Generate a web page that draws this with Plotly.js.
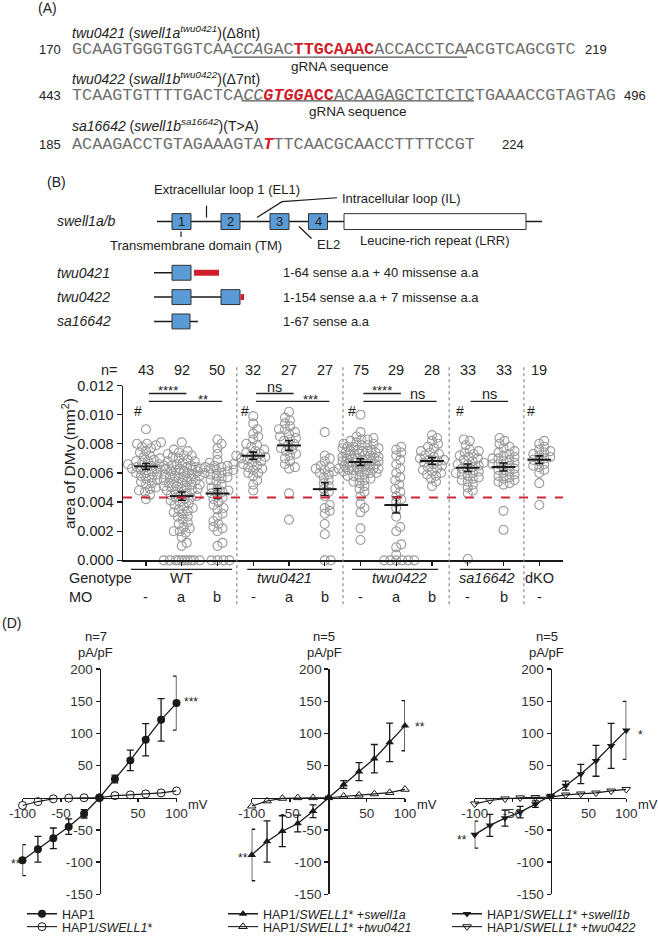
<!DOCTYPE html>
<html><head><meta charset="utf-8">
<script src="https://cdn.plot.ly/plotly-3.0.1.min.js"></script>
<style>html,body{margin:0;padding:0;background:#fff;}#chart{width:658px;height:942px;}</style>
</head><body><div id="chart"></div>
<script>
// ================= DATA =================
// Panel A: sequences
const seqStart = [170, 443, 185];
const seqEnd = [219, 496, 224];
const seqTitles = [
  '<i>twu0421</i> (<i>swell1a</i><sup><i>twu0421</i></sup>)(Δ8nt)',
  '<i>twu0422</i> (<i>swall1b</i><sup><i>twu0422</i></sup>)(Δ7nt)',
  '<i>sa16642</i> (<i>swell1b</i><sup><i>sa16642</i></sup>)(T>A)'
];
const RED = '#d01f2c';
const seqTexts = [
  'GCAAGTGGGTGGTCAA<i>CCA</i>GAC<b><span style="color:' + RED + '">TTGCAAAC</span></b>ACCACCTCAACGTCAGCGTC',
  'TCAAGTGTTTTGACTCA<i>CC</i><b><i><span style="color:' + RED + '">GTGG</span></i><span style="color:' + RED + '">ACC</span></b>ACAAGAGCTCTCTCTGAAACCGTAGTAG',
  'ACAAGACCTGTAGAAAGTA<b><i><span style="color:' + RED + '">T</span></i></b>TTCAACGCAACCTTTTCCGT'
];
// Panel B: mutants
const mutants = ['twu0421', 'twu0422', 'sa16642'];
const mutantDesc = ['1-64 sense a.a + 40 missense a.a', '1-154 sense a.a + 7 missense a.a', '1-67 sense a.a'];

// Panel C: area of DMv (values in 10^-3 mm^2)
const genotypes = ['WT', 'twu0421', 'twu0422', 'sa16642', 'dKO'];
const moLabels = ['-', 'a', 'b', '-', 'a', 'b', '-', 'a', 'b', '-', 'b', '-'];
const nCounts = [43, 92, 50, 32, 27, 27, 75, 29, 28, 33, 33, 19];
const wtCtrl = [9.0, 8.1, 8.0, 8.0, 7.9, 7.8, 7.7, 7.5, 7.4, 7.2, 7.1, 7.0, 6.9, 6.8, 6.8, 6.7, 6.6, 6.6, 6.5, 6.5, 6.4, 6.4, 6.3, 6.2, 6.2, 6.1, 6.0, 6.0, 5.9, 5.8, 5.7, 5.6, 5.5, 5.4, 5.3, 5.2, 5.0, 4.9, 4.8, 4.7, 4.5, 4.2, 6.3];
const wtMoA = [0, 0, 0, 0, 0, 0, 0, 0, 0, 0, 1.0, 1.2, 1.6, 1.9, 2.0, 2.0, 2.2, 2.3, 2.5, 2.6, 2.8, 3.0, 3.0, 3.2, 3.3, 3.4, 3.5, 3.6, 3.7, 3.8, 3.9, 4.0, 4.1, 4.2, 4.3, 4.3, 4.4, 4.5, 4.5, 4.6, 4.7, 4.8, 4.8, 4.9, 4.9, 5.0, 5.0, 5.1, 5.1, 5.2, 5.2, 5.3, 5.3, 5.4, 5.4, 5.5, 5.5, 5.6, 5.6, 5.7, 5.7, 5.8, 5.8, 5.9, 5.9, 6.0, 6.0, 6.1, 6.1, 6.1, 6.2, 6.2, 6.3, 6.3, 6.4, 6.4, 6.5, 6.5, 6.6, 6.7, 6.8, 6.8, 6.9, 7.0, 7.1, 7.2, 7.2, 7.3, 7.4, 7.5, 7.6, 8.1];
const wtMoB = [8.3, 8.0, 7.7, 7.3, 6.9, 6.7, 6.6, 6.5, 6.5, 6.4, 6.3, 6.3, 6.2, 6.2, 6.1, 6.0, 6.0, 5.9, 5.8, 5.6, 5.5, 5.4, 5.2, 5.0, 4.9, 4.8, 4.6, 4.5, 4.3, 4.2, 4.0, 3.8, 3.6, 3.5, 3.2, 3.0, 2.7, 2.5, 2.3, 2.2, 2.0, 1.2, 1.0, 0, 0, 0, 0, 5.7, 6.4, 4.7];
const t421Ctrl = [9.9, 9.4, 9.0, 8.7, 8.5, 8.3, 8.0, 7.9, 7.8, 7.6, 7.5, 7.4, 7.3, 7.2, 7.2, 7.1, 7.0, 6.9, 6.8, 6.7, 6.6, 6.5, 6.4, 6.3, 6.2, 6.0, 6.0, 5.8, 5.5, 5.2, 4.8, 7.0];
const t421MoA = [10.2, 9.8, 9.6, 9.4, 9.2, 9.0, 9.0, 8.8, 8.7, 8.5, 8.4, 8.3, 8.2, 8.0, 7.9, 7.7, 7.5, 7.3, 7.2, 7.0, 6.8, 6.6, 6.4, 6.3, 7.6, 4.6, 2.8];
const t421MoB = [8.8, 7.2, 7.0, 6.8, 6.5, 6.4, 6.3, 6.2, 6.1, 6.0, 5.9, 5.7, 5.5, 5.3, 5.1, 4.9, 4.7, 4.4, 3.8, 3.6, 3.4, 3.2, 2.5, 1.8, 0, 0, 6.3];
const t422Ctrl = [10.0, 8.8, 8.5, 8.4, 8.3, 8.2, 8.1, 8.0, 8.0, 7.9, 7.8, 7.8, 7.7, 7.7, 7.6, 7.6, 7.5, 7.5, 7.4, 7.4, 7.3, 7.3, 7.2, 7.2, 7.1, 7.1, 7.0, 7.0, 7.0, 6.9, 6.9, 6.8, 6.8, 6.8, 6.7, 6.7, 6.6, 6.6, 6.5, 6.5, 6.4, 6.4, 6.3, 6.3, 6.2, 6.2, 6.1, 6.1, 6.0, 6.0, 5.9, 5.8, 5.7, 5.6, 5.5, 5.4, 5.3, 5.1, 4.9, 4.7, 4.4, 3.9, 3.6, 3.3, 2.2, 1.4, 7.5, 7.0, 6.6, 6.2, 8.3, 7.9, 5.8, 6.5, 7.2];
const t422MoA = [7.8, 7.6, 7.4, 7.2, 6.9, 6.6, 6.3, 6.0, 5.7, 5.5, 5.2, 4.9, 4.7, 4.4, 4.2, 4.0, 3.6, 3.0, 2.3, 2.0, 1.1, 0.4, 0.9, 0, 0, 0, 0, 0, 0];
const t422MoB = [8.6, 8.4, 8.2, 8.0, 7.8, 7.7, 7.5, 7.4, 7.3, 7.2, 7.1, 7.0, 6.9, 6.8, 6.7, 6.6, 6.5, 6.4, 6.3, 6.2, 6.1, 6.0, 5.9, 5.8, 5.6, 5.4, 5.1, 6.9];
const saCtrl = [8.3, 8.2, 7.9, 7.6, 7.5, 7.4, 7.2, 7.1, 7.0, 6.9, 6.8, 6.7, 6.6, 6.5, 6.4, 6.3, 6.2, 6.1, 6.0, 6.0, 5.9, 5.8, 5.7, 5.6, 5.5, 5.4, 5.2, 5.0, 4.8, 4.6, 0.1, 6.6, 7.3];
const saMoB = [8.4, 8.2, 8.0, 7.8, 7.7, 7.5, 7.4, 7.3, 7.2, 7.1, 7.0, 6.9, 6.8, 6.7, 6.6, 6.5, 6.4, 6.3, 6.2, 6.1, 6.0, 5.9, 5.8, 5.7, 5.6, 5.5, 5.4, 5.3, 5.2, 3.4, 2.1, 6.6, 7.0];
const dko = [8.2, 8.0, 7.8, 7.6, 7.5, 7.4, 7.3, 7.2, 7.1, 7.0, 6.9, 6.8, 6.6, 6.5, 6.4, 6.2, 6.0, 5.3, 3.8];
const groupMeans = [6.45, 4.41, 4.59, 7.18, 7.89, 4.89, 6.75, 3.80, 6.82, 6.36, 6.41, 6.91];
const groupSems = [0.20, 0.28, 0.34, 0.25, 0.34, 0.44, 0.23, 0.55, 0.23, 0.26, 0.27, 0.26];
const cutoff = 4.32;
const yTickVals = [0, 2, 4, 6, 8, 10, 12];
const yTickText = ['0.000', '0.002', '0.004', '0.006', '0.008', '0.010', '0.012'];
// comparisons: [from, to, label, level]
const comparisons = [[0, 1, '****', 0], [0, 2, '**', 1], [3, 4, 'ns', 0], [3, 5, '***', 1], [6, 7, '****', 0], [6, 8, 'ns', 1], [9, 10, 'ns', 1]];
const hashGroups = [0, 3, 6, 9, 11];

// Panel D: I-V curves
const mV = [-100, -80, -60, -40, -20, 0, 20, 40, 60, 80, 100];
const hap1 = [-97, -80, -63, -45, -25, 0, 29, 58, 90, 121, 147];
const hap1Sem = [24, 20, 16, 12, 6.5, 2, 6, 16, 25, 33, 42];
const hap1Swell1 = [-12, -6, -1.7, -0.6, 0, 0, 3.3, 4.4, 6, 7.5, 10.6];
const swell1aRescue = [-89, -68, -52, -40, -21, 0, 20.5, 40.6, 60.7, 86, 112];
const swell1aSem = [40, 32, 24, 13, 10, 2, 6, 14, 22, 30, 39];
const twu0421Rescue = [-13, -5, -1, 0, 0, 0, 2.3, 4, 6, 8, 13];
const swell1bRescue = [-57.4, -43, -31.6, -22.4, -10, 3, 18.7, 36.8, 57.4, 80.5, 104.7];
const swell1bSem = [21, 17, 12.5, 9, 5, 2, 7, 15, 24, 35, 45];
const twu0422Rescue = [-9.5, -4.4, -1.7, 0, 0.5, 1, 4.4, 6, 7.5, 10.6, 13];
const dN = ['n=7', 'n=5', 'n=5'];
const dNames = [
  ['HAP1', 'HAP1/<i>SWELL1</i>*'],
  ['HAP1/<i>SWELL1</i>* +<i>swell1a</i>', 'HAP1/<i>SWELL1</i>* +<i>twu0421</i>'],
  ['HAP1/<i>SWELL1</i>* +<i>swell1b</i>', 'HAP1/<i>SWELL1</i>* +<i>twu0422</i>']
];
const dXTickVals = [-100, -50, 50, 100];
const dXTickText = ['-100', '-50', '50', '100'];
const dYTickVals = [-150, -100, -50, 50, 100, 150, 200];
const dYTickText = ['-150', '-100', '-50', '50', '100', '150', '200'];

// ================= HELPERS =================
const W = 658, H = 942;
const PX = x => x / W, PY = y => 1 - y / H;
const ann = [], shp = [], traces = [];
const INK = '#1a1a1a', BLUE = '#5b9bd5';
function txt(text, x, y, size, opt) {
  ann.push(Object.assign({xref: 'paper', yref: 'paper', x: PX(x), y: PY(y), text: text, showarrow: false,
    xanchor: 'left', yanchor: 'middle', font: {size: size || 13, color: '#222'}}, opt || {}));
}
function seg(x0, y0, x1, y1, color, width) {
  shp.push({type: 'line', xref: 'paper', yref: 'paper', x0: PX(x0), y0: PY(y0), x1: PX(x1), y1: PY(y1),
    line: {color: color || INK, width: width || 1.5}});
}
function rect(x0, y0, x1, y1, fill, lc, lw) {
  shp.push({type: 'rect', xref: 'paper', yref: 'paper', x0: PX(x0), y0: PY(y1), x1: PX(x1), y1: PY(y0),
    fillcolor: fill, line: {color: lc || '#333', width: lw === undefined ? 1 : lw}});
}

// ================= PANEL A =================
txt('(A)', 36, 8, 14);
const seqY = [50, 96, 145], titleY = [32, 78, 126], endX = [583, 622, 500];
const SEQX = 70, CW = 10.1;
for (let i = 0; i < 3; i++) {
  txt(seqTitles[i], 70, titleY[i], 14);
  txt(String(seqStart[i]), 63, seqY[i], 13, {xanchor: 'right'});
  txt(seqTexts[i], SEQX, seqY[i], 16.8, {font: {family: 'Liberation Mono, Courier New, monospace', size: 16.8, color: '#6e6e6e'}});
  txt(String(seqEnd[i]), endX[i], seqY[i], 13);
}
seg(SEQX + 16 * CW, 57.5, 467, 57.5, '#555', 1.3);
seg(SEQX + 17 * CW, 101.5, 474, 101.5, '#555', 1.3);
txt('gRNA sequence', 340, 66.5, 13.5, {xanchor: 'center'});
txt('gRNA sequence', 358, 112, 13.5, {xanchor: 'center'});

// ================= PANEL B =================
txt('(B)', 45, 183, 14);
seg(157, 223, 542, 223, INK, 1.5);
const tmBoxes = [[172, 191], [221, 240], [270, 289], [308.5, 327.5]];
tmBoxes.forEach((b, i) => {
  rect(b[0], 215, b[1], 231, BLUE, '#333', 1);
  txt(String(i + 1), (b[0] + b[1]) / 2, 223, 13, {xanchor: 'center'});
});
rect(344, 215, 526, 231, 'white', '#333', 1);
seg(206.5, 207, 206.5, 219, INK, 1.2);
shp.push({type: 'path', xref: 'paper', yref: 'paper',
  path: 'M' + PX(257) + ',' + PY(219) + ' L' + PX(282) + ',' + PY(203) + ' L' + PX(337) + ',' + PY(199),
  line: {color: INK, width: 1.2}});
seg(181, 233, 181, 238.5, INK, 1.2);
seg(299, 228, 311.5, 240, INK, 1.2);
txt('Extracellular loop 1 (EL1)', 152, 191, 13);
txt('Intracellular loop (IL)', 340, 200, 13);
txt('<i>swell1a/b</i>', 55, 222, 14);
txt('Transmembrane domain (TM)', 196, 247.5, 13, {xanchor: 'center'});
txt('EL2', 315, 246, 13);
txt('Leucine-rich repeat (LRR)', 435, 242, 13, {xanchor: 'center'});
const rowY = [274.5, 299, 323.5];
seg(154, rowY[0], 172, rowY[0], INK, 1.5);
rect(172, 267, 191, 282, BLUE);
rect(194, 271.5, 219, 277.5, RED, RED, 0);
seg(154, rowY[1], 221, rowY[1], INK, 1.5);
rect(172, 291.5, 191, 306.5, BLUE);
rect(221, 291.5, 240, 306.5, BLUE);
rect(240.5, 296, 244, 302, RED, RED, 0);
seg(154, rowY[2], 198, rowY[2], INK, 1.5);
rect(172, 316, 190, 331, BLUE);
mutants.forEach((m, i) => {
  txt('<i>' + m + '</i>', 55, rowY[i], 14);
  txt(mutantDesc[i], 281, rowY[i], 13);
});

// ================= PANEL C =================
const groups = [wtCtrl, wtMoA, wtMoB, t421Ctrl, t421MoA, t421MoB, t422Ctrl, t422MoA, t422MoB, saCtrl, saMoB, dko];
const C_X0 = 123, C_X1 = 563, C_Y0 = 564, C_Y1 = 388;
const xRange = [-0.643, 11.664], yRange = [0, 12];
const pxPerCat = (C_X1 - C_X0) / (xRange[1] - xRange[0]);
const pxPerUnit = (C_Y0 - C_Y1) / (yRange[1] - yRange[0]);
function swarm(vals, minDist, maxOff) {
  const order = vals.map((v, i) => i).sort((a, b) => vals[a] - vals[b]);
  const placed = [], off = new Array(vals.length);
  for (const i of order) {
    const y = vals[i] * pxPerUnit;
    let best = 0, bestScore = -1;
    for (let k = 0; k <= 2 * maxOff; k++) {
      const dx = (k % 2 ? 1 : -1) * Math.ceil(k / 2);
      let md = Infinity;
      for (const p of placed) { const d = Math.hypot(p.x - dx, p.y - y); if (d < md) md = d; }
      if (md >= minDist) { best = dx; bestScore = Infinity; break; }
      if (md > bestScore) { bestScore = md; best = dx; }
    }
    placed.push({x: best, y: y});
    off[i] = best / pxPerCat;
  }
  return off;
}
groups.forEach((vals, gi) => {
  const off = swarm(vals, 5.6, 18);
  traces.push({type: 'scatter', mode: 'markers', xaxis: 'x', yaxis: 'y', x: vals.map((v, j) => gi + off[j]), y: vals,
    marker: {symbol: 'circle-open', size: 9, color: '#9a9a9a', line: {width: 1.1, color: '#9a9a9a'}},
    cliponaxis: false, showlegend: false, hoverinfo: 'skip'});
});
traces.push({type: 'scatter', mode: 'markers', xaxis: 'x', yaxis: 'y', x: groupMeans.map((m, i) => i), y: groupMeans,
  marker: {symbol: 'line-ew', size: 17, color: INK, line: {width: 2, color: INK}},
  error_y: {type: 'data', array: groupSems, visible: true, color: INK, thickness: 1.6, width: 4},
  cliponaxis: false, showlegend: false, hoverinfo: 'skip'});
// cutoff line
shp.push({type: 'line', xref: 'paper', yref: 'y', x0: PX(C_X0), x1: PX(C_X1), y0: cutoff, y1: cutoff,
  line: {color: '#d3263a', width: 2, dash: 'dash'}});
// separators
[2.54, 5.51, 8.48, 10.57].forEach(s => shp.push({type: 'line', xref: 'x', yref: 'paper', x0: s, x1: s, y0: PY(608), y1: PY(368),
  line: {color: '#808080', width: 1.1, dash: '3px,3px'}}));
// n row
txt('n=', 109, 372, 14.5, {xanchor: 'center'});
nCounts.forEach((n, i) => ann.push({xref: 'x', yref: 'paper', x: i, y: PY(372), text: String(n), showarrow: false,
  xanchor: 'center', yanchor: 'middle', font: {size: 14.5, color: '#222'}}));
// #
hashGroups.forEach(i => ann.push({xref: 'x', yref: 'paper', x: i - 0.23, y: PY(414), text: '#', showarrow: false,
  xanchor: 'center', yanchor: 'middle', font: {size: 14, color: '#222'}}));
// stats
comparisons.forEach(c => {
  const x0 = c[0] + 0.08, x1 = c[1] + 0.13, ly = c[3] ? 404 : 396;
  shp.push({type: 'line', xref: 'x', yref: 'paper', x0: x0, x1: x1, y0: PY(ly), y1: PY(ly), line: {color: '#222', width: 1.3}});
  const isStar = c[2].indexOf('*') >= 0;
  const tx = (c[3] && c[1] - c[0] > 1) ? c[1] - 0.4 : (x0 + x1) / 2;
  const ty = c[3] ? (isStar ? 402 : 397) : (isStar ? 393 : 389);
  ann.push({xref: 'x', yref: 'paper', x: tx, y: PY(ty), text: c[2], showarrow: false, xanchor: 'center', yanchor: 'middle',
    font: {size: isStar ? 13 : 14.5, color: '#222'}});
});
// genotype / MO rows
txt('Genotype', 67, 582, 14.5);
txt('MO', 67, 601, 14.5);
const genoX = [1, 3.87, 7.1, 9.53, 11];
const genoLine = [[-0.42, 2.41], [2.83, 5.2], [5.76, 8.17], [8.78, 10.2]];
genotypes.forEach((g, i) => ann.push({xref: 'x', yref: 'paper', x: genoX[i], y: PY(582),
  text: (i === 1 || i === 2 || i === 3) ? '<i>' + g + '</i>' : g, showarrow: false, xanchor: 'center', yanchor: 'middle',
  font: {size: 14.5, color: '#222'}}));
genoLine.forEach(l => shp.push({type: 'line', xref: 'x', yref: 'paper', x0: l[0], x1: l[1], y0: PY(573), y1: PY(573),
  line: {color: '#222', width: 1.2}}));
moLabels.forEach((m, i) => ann.push({xref: 'x', yref: 'paper', x: i, y: PY(601), text: m, showarrow: false,
  xanchor: 'center', yanchor: 'middle', font: {size: 14.5, color: '#222'}}));
txt('area of DMv (mm<sup>2</sup>)', 69, 467, 15.5, {xanchor: 'center', textangle: -90});

// ================= PANEL D =================
txt('(D)', 0, 627, 14);
const dDom = [[22.5, 176.5], [251.7, 405], [474.7, 626.3]];
const D_Y0 = 900, D_Y1 = 673.3, dYR = [-150, 200], dXR = [-100, 100];
const zeroYpx = D_Y1 + (dYR[1] - 0) / (dYR[1] - dYR[0]) * (D_Y0 - D_Y1);
const dData = [[hap1, hap1Sem, hap1Swell1, 'circle'], [swell1aRescue, swell1aSem, twu0421Rescue, 'triangle-up'], [swell1bRescue, swell1bSem, twu0422Rescue, 'triangle-down']];
const legX = [22, 223, 447], legY = [920, 933];
const layoutAxes = {};
const legBase = {xanchor: 'left', yanchor: 'middle', bgcolor: 'rgba(0,0,0,0)', borderwidth: 0,
  font: {size: 12.5, color: '#222'}, itemwidth: 30, tracegroupgap: 0, traceorder: 'normal'};
dData.forEach((d, k) => {
  const n = k + 2;
  const lgA = k === 0 ? 'legend' : 'legend' + (2 * k + 1), lgB = 'legend' + (2 * k + 2);
  layoutAxes[lgA] = Object.assign({x: PX(legX[k]), y: PY(legY[0])}, legBase);
  layoutAxes[lgB] = Object.assign({x: PX(legX[k]), y: PY(legY[1])}, legBase);
  const x0 = dDom[k][0], x1 = dDom[k][1];
  const zeroXpx = x0 + (0 - dXR[0]) / (dXR[1] - dXR[0]) * (x1 - x0);
  layoutAxes['xaxis' + n] = {domain: [PX(x0), PX(x1)], range: dXR, anchor: 'free', position: PY(zeroYpx),
    showline: true, linecolor: INK, linewidth: 1.5, ticks: 'outside', ticklen: 3, tickwidth: 1.2, tickcolor: INK,
    tickvals: dXTickVals, ticktext: dXTickText, tickfont: {size: 13.5, color: '#333'}, showgrid: false, zeroline: false};
  layoutAxes['yaxis' + n] = {domain: [PY(D_Y0), PY(D_Y1)], range: dYR, anchor: 'free', position: PX(zeroXpx),
    showline: true, linecolor: INK, linewidth: 1.5, ticks: 'outside', ticklen: 4, tickwidth: 1.2, tickcolor: INK,
    tickvals: dYTickVals, ticktext: dYTickText, tickfont: {size: 13.5, color: '#333'}, showgrid: false, zeroline: false};
  traces.push({type: 'scatter', mode: 'lines+markers', xaxis: 'x' + n, yaxis: 'y' + n, x: mV, y: d[0], name: dNames[k][0],
    line: {color: INK, width: 1.3}, marker: {symbol: d[3], size: k === 0 ? 8 : 7.5, color: INK},
    error_y: {type: 'data', array: d[1], visible: true, color: INK, thickness: 1.3, width: 3.5},
    cliponaxis: false, legend: lgA, hoverinfo: 'skip'});
  traces.push({type: 'scatter', mode: 'lines+markers', xaxis: 'x' + n, yaxis: 'y' + n, x: mV, y: d[2], name: dNames[k][1],
    line: {color: INK, width: 1.1}, marker: {symbol: d[3] + '-open', size: k === 0 ? 8 : 7.5, color: INK, line: {width: 1, color: INK}},
    cliponaxis: false, legend: lgB, hoverinfo: 'skip'});
  const cx = zeroXpx - 4;
  txt(dN[k], cx, 641, 13, {xanchor: 'center'});
  txt('pA/pF', cx, 657, 13, {xanchor: 'center'});
  txt('mV', x1 + 10, 810, 13);
});
txt('***', 182, 707, 12);
txt('**', 9, 870, 12);
txt('**', 413, 732, 12);
txt('**', 236, 863, 12);
txt('*', 636, 740, 12);
txt('**', 455, 845, 12);

const layout = Object.assign({
  width: W, height: H, margin: {l: 0, r: 0, t: 0, b: 0},
  paper_bgcolor: '#ffffff', plot_bgcolor: 'rgba(0,0,0,0)',
  font: {family: 'Liberation Sans, Arial, Helvetica, sans-serif', size: 13, color: '#222'},
  showlegend: true, hovermode: false,
  xaxis: {domain: [PX(C_X0), PX(C_X1)], range: xRange, anchor: 'y', showline: true, linecolor: INK, linewidth: 1.5,
    ticks: 'outside', ticklen: 4, tickwidth: 1.3, tickcolor: INK, tickvals: groups.map((g, i) => i),
    showticklabels: false, showgrid: false, zeroline: false},
  yaxis: {domain: [PY(C_Y0), PY(C_Y1)], range: yRange, anchor: 'x', showline: true, linecolor: INK, linewidth: 1.5,
    ticks: 'outside', ticklen: 5, tickwidth: 1.3, tickcolor: INK, tickvals: yTickVals, ticktext: yTickText,
    tickfont: {size: 14.5, color: '#222'}, showgrid: false, zeroline: false},
  shapes: shp, annotations: ann
}, layoutAxes);

Plotly.newPlot('chart', traces, layout, {staticPlot: true, displayModeBar: false});
</script></body></html>
